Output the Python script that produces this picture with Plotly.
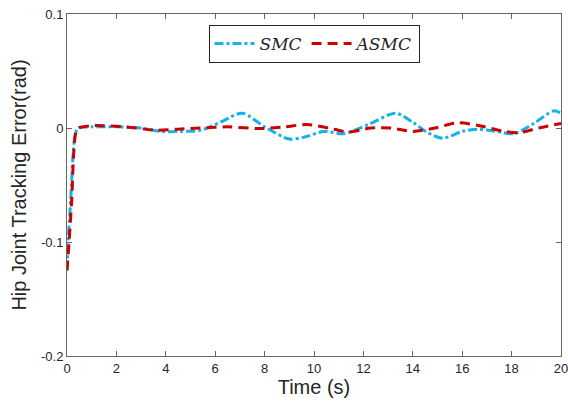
import plotly.graph_objects as go

# ---- data ----
t_smc = [0, 0.05, 0.15, 0.26, 0.33, 0.45, 1.0, 2.0, 3.0, 3.8, 4.6, 5.4, 6.2, 7.1, 8.0, 9.0,
         9.6, 10.4, 11.2, 12.2, 13.3, 14.0, 14.6, 15.2, 16.0, 16.6, 17.4, 18.1, 18.9, 19.7, 20.0]
smc = [-0.125, -0.098, -0.063, -0.019, -0.006, 0.0, 0.001, 0.001, 0.0, -0.003, -0.003, -0.002,
       0.005, 0.013, 0.001, -0.0097, -0.008, -0.003, -0.005, 0.003, 0.013, 0.005, -0.004, -0.009,
       -0.003, -0.001, -0.003, -0.005, 0.004, 0.015, 0.013]

t_asmc = [0, 0.09, 0.19, 0.28, 0.36, 0.48, 1.0, 2.4, 3.6, 4.5, 5.4, 6.5, 7.8, 8.8, 9.7, 10.6,
          11.4, 12.3, 13.1, 14.0, 14.9, 15.8, 16.7, 17.7, 18.3, 19.1, 20.0]
asmc = [-0.125, -0.098, -0.063, -0.019, -0.004, 0.0, 0.002, 0.001, -0.002, -0.001, 0.0, 0.001,
        -0.0005, 0.001, 0.003, 0.0, -0.0035, 0.0, 0.0, -0.003, 0.0, 0.0045, 0.002, -0.003,
        -0.004, 0.0, 0.004]

x_ticks = [0, 2, 4, 6, 8, 10, 12, 14, 16, 18, 20]
y_ticks = [0.1, 0, -0.1, -0.2]
y_ticklabels = ["0.1", "0", "-0.1", "-0.2"]

fig = go.Figure()
fig.add_trace(go.Scatter(
    x=t_smc, y=smc, mode="lines", name="<i>SMC</i>",
    line=dict(color="#12b3e6", width=3, dash="dashdot", shape="spline", smoothing=0.8),
))
fig.add_trace(go.Scatter(
    x=t_asmc, y=asmc, mode="lines", name="<i>ASMC</i>",
    line=dict(color="#cc0000", width=3, dash="10px,6px", shape="spline", smoothing=0.8),
))

axis_common = dict(
    showline=True, linecolor="#666666", linewidth=1, mirror="ticks",
    ticks="inside", ticklen=5, tickcolor="#666666", tickwidth=1,
    showgrid=False, zeroline=False, ticklabeloverflow="allow",
    tickfont=dict(family="Liberation Sans, Arial", size=13, color="#262626"),
)

fig.update_layout(
    width=568, height=410,
    margin=dict(l=67, r=7, t=14, b=54, autoexpand=False),
    plot_bgcolor="white", paper_bgcolor="white",
    showlegend=True,
    legend=dict(
        x=0.5, y=0.968, xanchor="center", yanchor="top", orientation="h",
        bordercolor="#262626", borderwidth=1, bgcolor="white",
        font=dict(family="DejaVu Serif", size=17, color="#262626"),
        itemwidth=40, tracegroupgap=0,
    ),
    xaxis=dict(
        range=[0, 20], tickvals=x_ticks,
        title=dict(text="Time (s)", font=dict(family="Liberation Sans, Arial", size=20, color="#262626"), standoff=4),
        **axis_common,
    ),
    yaxis=dict(
        range=[-0.2, 0.1], tickvals=y_ticks, ticktext=y_ticklabels,
        title=dict(text="Hip Joint Tracking Error(rad)", font=dict(family="Liberation Sans, Arial", size=20, color="#262626"), standoff=8),
        **axis_common,
    ),
)

fig.write_html(
    "out.html",
    config={"displayModeBar": False},
    post_script="document.body.style.margin='0';document.body.style.overflow='hidden';",
)
